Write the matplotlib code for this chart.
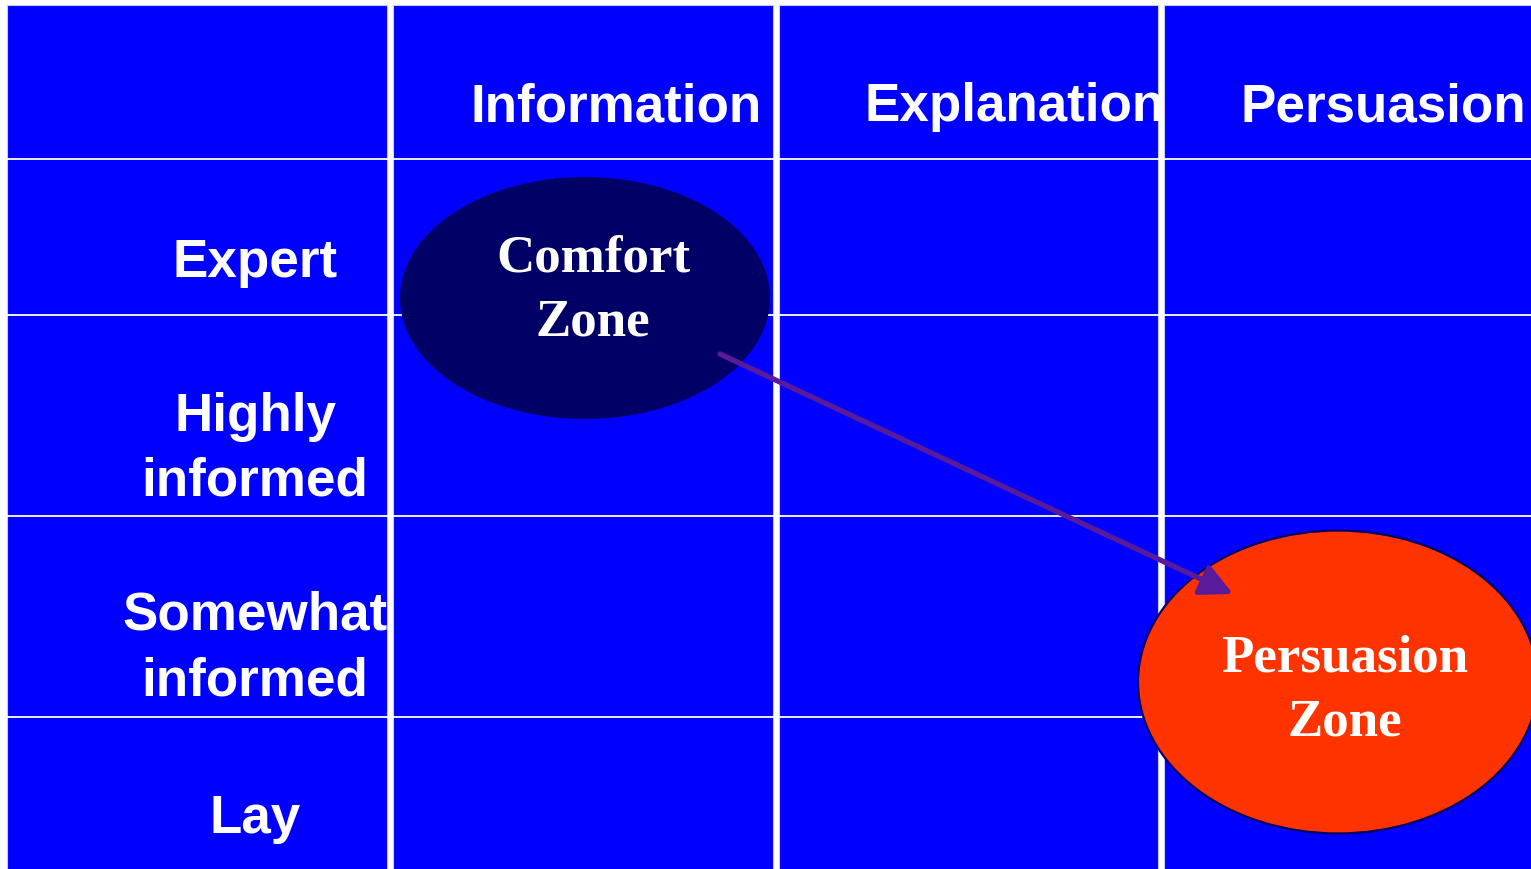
import matplotlib
matplotlib.use("Agg")
import matplotlib.pyplot as plt
from matplotlib.patches import Rectangle, Ellipse, FancyArrowPatch

# ---- content ----
col_headers = ["Information", "Explanation", "Persuasion"]
row_labels = [["Expert"], ["Highly", "informed"], ["Somewhat", "informed"], ["Lay"]]
zone_labels = ["Comfort\nZone", "Persuasion\nZone"]

# ---- layout (pixel coordinates) ----
W, H = 1531, 869
col_edges = [(7, 387), (393, 773), (779, 1158), (1164, 1540)]
row_edges = [5, 159, 315, 516, 717, 880]
header_x = [471, 865, 1241]
header_base = 121
row_label_x = 255
row_label_bases = [[277], [431, 495], [630, 695], [833]]

BLUE = "#0000FF"
PX = 72 / 100.0

fig = plt.figure(figsize=(W / 100, H / 100), dpi=100)
fig.patch.set_facecolor("white")
ax = fig.add_axes([0, 0, 1, 1])
ax.set_xlim(0, W)
ax.set_ylim(H, 0)
ax.axis("off")

# columns of cells
col_rects = []
for (x0, x1) in col_edges:
    r = Rectangle((x0, row_edges[0]), x1 - x0, row_edges[-1] - row_edges[0],
                  facecolor=BLUE, edgecolor="#c8c8ff", linewidth=0.8, zorder=1)
    ax.add_patch(r)
    col_rects.append(r)

# horizontal row separators
for y in row_edges[1:-1]:
    ax.plot([col_edges[0][0], W], [y, y], color="white", lw=1.3, zorder=2,
            solid_capstyle="butt")

hfont = dict(family="Liberation Sans", weight="bold", color="white",
             fontsize=53 * PX, zorder=3)

# column headers
for name, x, rect in zip(col_headers, header_x, col_rects[1:]):
    t = ax.text(x, header_base, name, ha="left", va="baseline", **hfont)
    t.set_clip_path(rect)

# row labels
for lines, bases in zip(row_labels, row_label_bases):
    for line, b in zip(lines, bases):
        t = ax.text(row_label_x, b, line, ha="center", va="baseline", **hfont)
        t.set_clip_path(col_rects[0])

# zones
e1 = Ellipse((585, 298), 370, 242, facecolor="#000066", edgecolor="none", zorder=4)
ax.add_patch(e1)
e2 = Ellipse((1338, 682), 400, 303, facecolor="#FF3300", edgecolor="#000066",
             linewidth=1.6, zorder=4)
ax.add_patch(e2)

zfont = dict(family="Liberation Serif", weight="bold", color="white",
             fontsize=53 * PX, zorder=6, ha="center", va="baseline")
for lab, cx, b1 in zip(zone_labels, [593, 1345], [272, 672]):
    l1, l2 = lab.split("\n")
    ax.text(cx, b1, l1, **zfont)
    ax.text(cx, b1 + 64, l2, **zfont)

# arrow
arr = FancyArrowPatch((720, 354), (1233, 594), arrowstyle="-|>,head_length=1.5,head_width=0.75",
                      mutation_scale=13, color="#5A1A9C", linewidth=3.8, zorder=5,
                      shrinkA=0, shrinkB=0)
ax.add_patch(arr)

fig.savefig("out.png", dpi=100, facecolor="white")
